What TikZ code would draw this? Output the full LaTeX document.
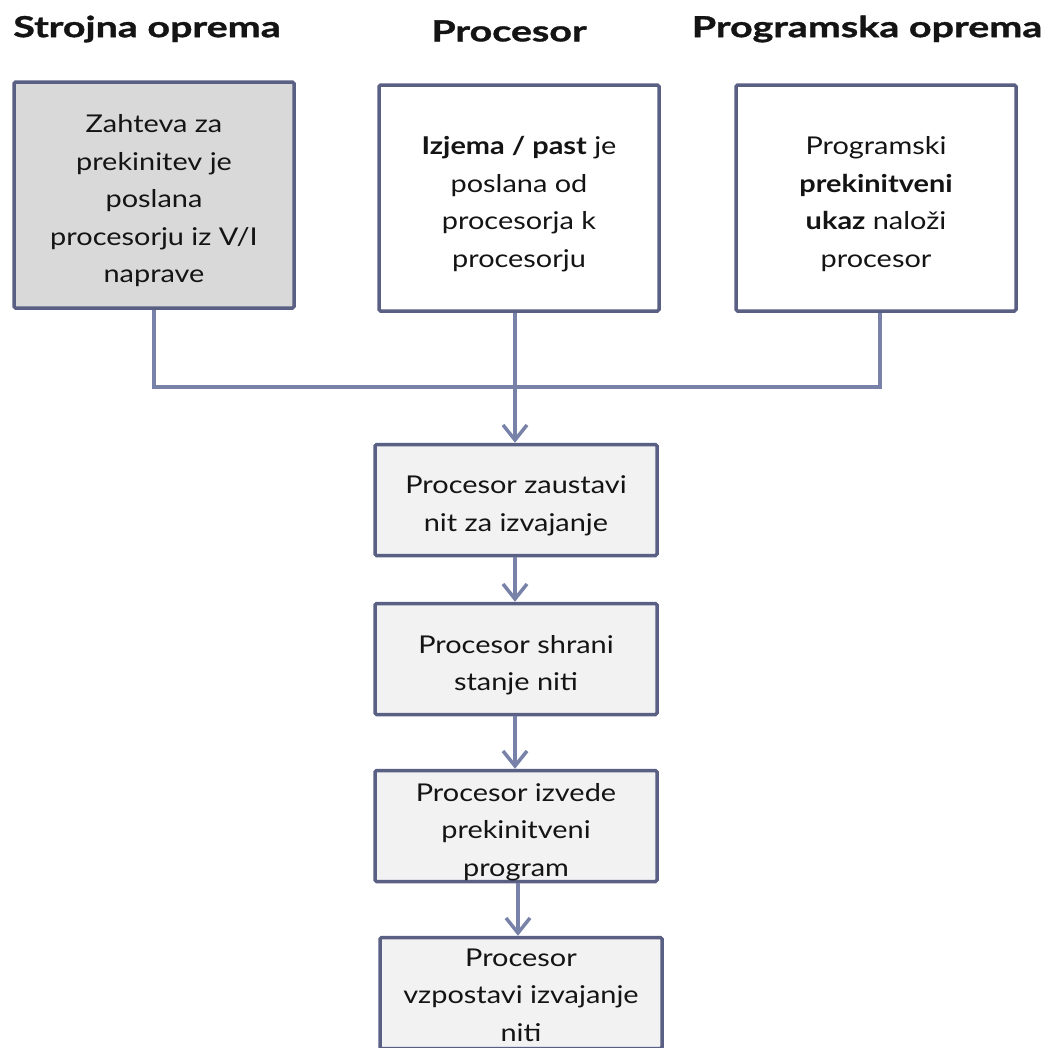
\documentclass[tikz,border=0pt]{standalone}
\usepackage{fontspec}
\setmainfont[FakeStretch=1.18]{Lato}
\newfontfamily\headfont[FakeStretch=1.36, BoldFeatures={FakeBold=1.2}]{Lato}
\usetikzlibrary{arrows.meta}
\definecolor{edgeclr}{HTML}{5A6084}
\definecolor{linkclr}{HTML}{7882A9}
\definecolor{greyfill}{HTML}{D9D9D9}
\definecolor{lightfill}{HTML}{F2F2F2}
\definecolor{inkclr}{HTML}{141414}
\tikzset{
  x=1pt, y=-1pt,
  heading/.style={font=\headfont\fontsize{29}{34}\selectfont\bfseries, text=inkclr, inner sep=0pt},
  boxframe/.style={draw=edgeclr, line width=3.5pt, rounded corners=1.5pt, inner sep=0pt},
  topbox/.style={boxframe, minimum width=280pt, minimum height=226pt},
  stepbox/.style={boxframe, fill=lightfill, minimum width=282pt, minimum height=111pt},
  boxtext/.style={font=\fontsize{24.5}{37.5}\selectfont, text=inkclr, align=center, inner sep=0pt, yshift=-6pt},
  link/.style={draw=linkclr, line width=3.5pt},
  linkarrow/.style={link, -{Straight Barb[length=15pt,width=24pt,line width=3.5pt]}},
}
\begin{document}
\begin{tikzpicture}
\useasboundingbox (0,0) rectangle (1052,1047);
\clip (0,0) rectangle (1052,1047);

% column headings
\node[heading] (h1) at (147,29) {Strojna oprema};
\node[heading] (h2) at (509,31) {Procesor};
\node[heading] (h3) at (867,29) {Programska oprema};

% three sources of an interrupt
\node[topbox, fill=greyfill] (s1) at (154,195) {};
\node[boxtext] (t1) at (s1) {Zahteva za\\prekinitev je\\poslana\\procesorju iz V/I\\naprave};
\node[topbox, fill=white] (s2) at (519,198) {};
\node[boxtext] (t2) at (s2) {\textbf{Izjema / past} je\\poslana od\\procesorja k\\procesorju};
\node[topbox, fill=white] (s3) at (876,198) {};
\node[boxtext] (t3) at (s3) {Programski\\\textbf{prekinitveni}\\\textbf{ukaz} naloži\\procesor};

% handling steps
\node[stepbox] (p1) at (516,500) {};
\node[boxtext] (q1) at (p1) {Procesor zaustavi\\nit za izvajanje};
\node[stepbox] (p2) at (516,659) {};
\node[boxtext] (q2) at (p2) {Procesor shrani\\stanje niti};
\node[stepbox] (p3) at (516,826) {};
\node[boxtext] (q3) at (p3) {Procesor izvede\\prekinitveni\\program};
\node[stepbox] (p4) at (521,993) {};
\node[boxtext, yshift=4pt] (q4) at (p4) {Procesor\\vzpostavi izvajanje\\niti};

% merging bus from the three sources
\coordinate (bus) at (515,387);
\draw[link] (s1.south -| 154,0) |- (bus) -| (s3.south -| 880,0);
\draw[linkarrow] (s2.south -| bus) -- (p1.north -| bus);
\draw[linkarrow] (p1.south -| bus) -- (p2.north -| bus);
\draw[linkarrow] (p2.south -| bus) -- (p3.north -| bus);
\draw[linkarrow] (p3.south -| 518,0) -- (p4.north -| 518,0);
\end{tikzpicture}
\end{document}
